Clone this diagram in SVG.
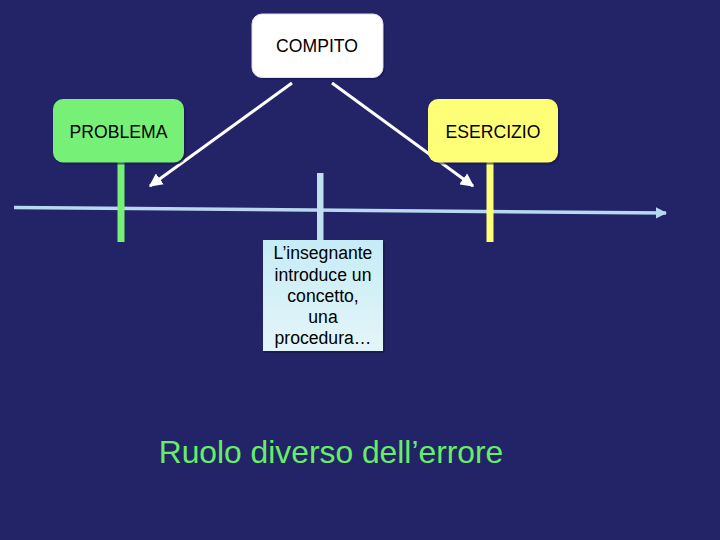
<svg xmlns="http://www.w3.org/2000/svg" width="720" height="540" viewBox="0 0 720 540">
<defs>
<style>
.lbl{font-family:"Liberation Sans",Arial,sans-serif;font-size:17.6px;fill:#000;text-anchor:middle}
.conn{stroke:#ffffff;stroke-width:3;fill:none}
.shadow{fill:#15154a;opacity:0.6}
</style>
<linearGradient id="boxgrad" x1="0" y1="0" x2="0" y2="1">
<stop offset="0" stop-color="#c6ecf6"/>
<stop offset="1" stop-color="#e4f5f9"/>
</linearGradient>
<marker id="ah" viewBox="0 0 10 10" refX="9" refY="5" markerWidth="4.5" markerHeight="4.5" orient="auto" markerUnits="strokeWidth">
<path d="M0,0 L10,5 L0,10 z" fill="#ffffff"/>
</marker>
<marker id="ah2" viewBox="0 0 10 10" refX="9" refY="5" markerWidth="3.2" markerHeight="3.2" orient="auto" markerUnits="strokeWidth">
<path d="M0,0 L10,5 L0,10 z" fill="#b8d8f0"/>
</marker>
</defs>
<rect x="0" y="0" width="720" height="540" fill="#232368"/>
<g id="timeline">
<path d="M14,207.5 L666,213" stroke="#b8d8f0" stroke-width="3.5" fill="none" marker-end="url(#ah2)"/>
</g>
<g id="stems">
<rect x="117.5" y="160" width="7" height="82" fill="#77f077"/>
<rect x="486.5" y="160" width="7" height="82" fill="#ffff77"/>
<rect x="317" y="173" width="6.5" height="68" fill="#c0e0f0"/>
</g>
<g id="connectors">
<line class="conn" x1="292" y1="83" x2="150" y2="186" marker-end="url(#ah)"/>
<line class="conn" x1="332" y1="83" x2="473" y2="186" marker-end="url(#ah)"/>
</g>
<g id="compito">
<rect class="shadow" x="254" y="16" width="131" height="63.5" rx="10"/>
<rect x="252" y="14" width="131" height="63.5" rx="10" fill="#ffffff" stroke="#e0e0e8" stroke-width="1"/>
<text class="lbl" x="317" y="52">COMPITO</text>
</g>
<g id="problema">
<rect class="shadow" x="55" y="101" width="131" height="63.5" rx="10"/>
<rect x="53" y="99" width="131" height="63.5" rx="10" fill="#77f077"/>
<text class="lbl" x="118.5" y="138">PROBLEMA</text>
</g>
<g id="esercizio">
<rect class="shadow" x="430" y="101" width="130" height="63.5" rx="10"/>
<rect x="428" y="99" width="130" height="63.5" rx="10" fill="#ffff77"/>
<text class="lbl" x="493" y="138">ESERCIZIO</text>
</g>
<g id="insegnante">
<rect class="shadow" x="265" y="242" width="120" height="111"/>
<rect x="263" y="240" width="120" height="111" fill="url(#boxgrad)"/>
<text class="lbl" x="323" y="259">L’insegnante</text>
<text class="lbl" x="323" y="281">introduce un</text>
<text class="lbl" x="323" y="302">concetto,</text>
<text class="lbl" x="323" y="323">una</text>
<text class="lbl" x="323" y="344">procedura…</text>
</g>
<g id="title">
<text x="331" y="463" font-family="Liberation Sans, Arial, sans-serif" font-size="31.8" fill="#66ee66" text-anchor="middle">Ruolo diverso dell’errore</text>
</g>
</svg>
